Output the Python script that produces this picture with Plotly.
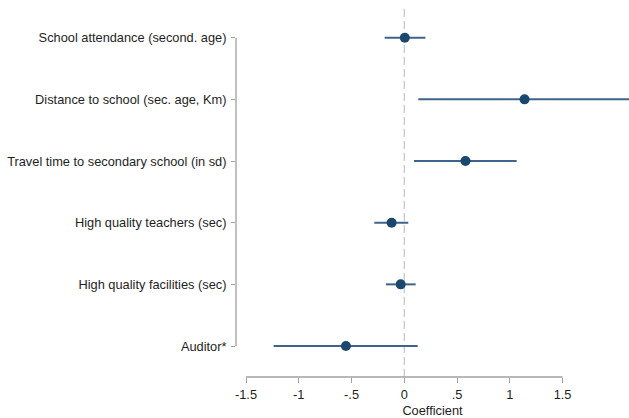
import plotly.graph_objects as go

labels = [
    "School attendance (second. age)",
    "Distance to school (sec. age, Km)",
    "Travel time to secondary school (in sd)",
    "High quality teachers (sec)",
    "High quality facilities (sec)",
    "Auditor*",
]
coef = [0.005, 1.14, 0.58, -0.12, -0.034, -0.553]
ci_low = [-0.186, 0.133, 0.092, -0.284, -0.174, -1.238]
ci_high = [0.20, 2.35, 1.065, 0.038, 0.108, 0.127]

xtick_vals = [-1.5, -1, -0.5, 0, 0.5, 1, 1.5]
xtick_text = ["-1.5", "-1", "-.5", "0", ".5", "1", "1.5"]

NAVY = "#1a476f"
LINE = "#3f6389"
AXIS = "#a0a0a0"
FONT = "Liberation Sans, Arial, sans-serif"
FS = 12.8

fig = go.Figure()

# CI lines
for lab, lo, hi in zip(labels, ci_low, ci_high):
    fig.add_trace(go.Scatter(x=[lo, hi], y=[lab, lab], mode="lines",
                             line=dict(color=LINE, width=2), showlegend=False,
                             hoverinfo="skip"))
# point estimates
fig.add_trace(go.Scatter(x=coef, y=labels, mode="markers",
                         marker=dict(color=NAVY, size=10), showlegend=False))

# zero reference line
fig.add_shape(type="line", xref="x", yref="paper", x0=0, x1=0, y0=0, y1=1,
              line=dict(color="#c8c8c8", width=1.3, dash="8px,4px"), layer="below")
# x axis line (spanning tick range)
fig.add_shape(type="line", xref="x", yref="paper", x0=-1.5, x1=1.5, y0=0, y1=0,
              line=dict(color=AXIS, width=1.3))
# y axis line (spanning categories)
fig.add_shape(type="line", xref="paper", yref="y", x0=0, x1=0, y0=0, y1=len(labels) - 1,
              line=dict(color=AXIS, width=1.3))

fig.update_layout(
    width=629, height=418,
    margin=dict(l=236, r=0, t=8, b=41),
    paper_bgcolor="white", plot_bgcolor="white",
    font=dict(family=FONT, size=FS, color="#1e1e1e"),
    xaxis=dict(range=[-1.595, 2.130], tickvals=xtick_vals, ticktext=xtick_text,
               ticks="outside", ticklen=5, tickcolor=AXIS, tickwidth=1.3,
               showgrid=False, zeroline=False, showline=False,
               ticklabelstandoff=1,
               title=dict(text="Coefficient", standoff=4, font=dict(size=FS)),
               tickfont=dict(size=FS)),
    yaxis=dict(type="category", categoryorder="array", categoryarray=labels,
               range=[5.502, -0.481], ticks="outside", ticklen=4, tickcolor=AXIS,
               tickwidth=1.3, showgrid=False, zeroline=False, showline=False,
               ticklabelstandoff=2, tickfont=dict(size=FS)),
)

fig.write_html("out.html")
